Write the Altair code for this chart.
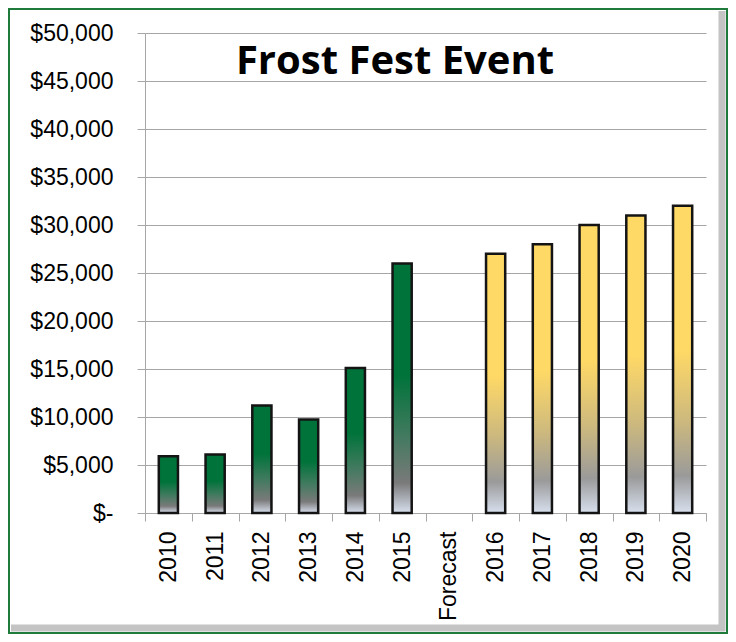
import altair as alt
import pandas as pd

categories = ["2010", "2011", "2012", "2013", "2014", "2015", "Forecast",
              "2016", "2017", "2018", "2019", "2020"]
revenue = [5900, 6100, 11200, 9750, 15100, 26000, None,
           27000, 28000, 30000, 31000, 32000]
kind = ["Actual"] * 6 + ["Gap"] + ["Forecast"] * 5
y_ticks = list(range(0, 50001, 5000))
title_text = ["Frost Fest Event"]

df = pd.DataFrame({"category": categories, "revenue": revenue, "kind": kind})
frame_df = pd.DataFrame({"k": [0]})
title_df = pd.DataFrame({"t": title_text})

green_grad = alt.LinearGradient(
    gradient="linear", x1=0, x2=0, y1=0, y2=1,
    stops=[
        alt.GradientStop(offset=0, color="#00733a"),
        alt.GradientStop(offset=0.45, color="#00733a"),
        alt.GradientStop(offset=0.68, color="#3f7a5e"),
        alt.GradientStop(offset=0.88, color="#7a7a7a"),
        alt.GradientStop(offset=1, color="#d8e0ee"),
    ],
)
yellow_grad = alt.LinearGradient(
    gradient="linear", x1=0, x2=0, y1=0, y2=1,
    stops=[
        alt.GradientStop(offset=0, color="#ffd966"),
        alt.GradientStop(offset=0.47, color="#ffd966"),
        alt.GradientStop(offset=0.70, color="#cdb97e"),
        alt.GradientStop(offset=0.88, color="#9a9a9a"),
        alt.GradientStop(offset=1, color="#d8e0ee"),
    ],
)

GRID = "#a6a6a6"
FONT = "Liberation Sans"

x_enc = alt.X(
    "category:N", sort=categories,
    scale=alt.Scale(domain=categories, paddingInner=0, paddingOuter=0),
    axis=alt.Axis(title=None, labelAngle=270, labelFont=FONT, labelFontSize=23,
                  labelColor="black", labelPadding=10, tickBand="extent",
                  tickSize=8, tickColor=GRID, domainColor=GRID, grid=False),
)
y_enc = alt.Y(
    "revenue:Q",
    scale=alt.Scale(domain=[0, 50000], nice=False),
    axis=alt.Axis(title=None, values=y_ticks,
                  labelExpr="datum.value == 0 ? '$-' : '$' + format(datum.value, ',')",
                  labelFont=FONT, labelFontSize=23, labelColor="black",
                  labelPadding=24, tickSize=8, tickColor=GRID, domainColor=GRID,
                  gridColor=GRID, gridWidth=1),
)

base = alt.Chart(df)
actual = base.transform_filter("datum.kind == 'Actual'").mark_bar(
    width=alt.RelativeBandSize(0.41), fill=green_grad, stroke="#141414", strokeWidth=2.5
).encode(x=x_enc, y=y_enc)
forecast = base.transform_filter("datum.kind == 'Forecast'").mark_bar(
    width=alt.RelativeBandSize(0.41), fill=yellow_grad, stroke="#141414", strokeWidth=2.5
).encode(x=x_enc, y=y_enc)

frame = alt.Chart(frame_df).mark_rect(fill="transparent", stroke="#1e7b3c", strokeWidth=2).encode(
    x=alt.value(-136), x2=alt.value(582), y=alt.value(-24), y2=alt.value(600)
)
bevel_right = alt.Chart(frame_df).mark_rule(color="#c4c4c4", strokeWidth=7).encode(
    x=alt.value(577), y=alt.value(-22), y2=alt.value(598)
)
bevel_bottom = alt.Chart(frame_df).mark_rule(color="#c4c4c4", strokeWidth=7).encode(
    x=alt.value(-134), x2=alt.value(580), y=alt.value(595)
)

title = alt.Chart(title_df).mark_text(
    font="Open Sans", fontSize=40, fontWeight="bold", color="black",
    align="center", baseline="alphabetic"
).encode(text="t:N", x=alt.value(250), y=alt.value(41))

chart = alt.layer(bevel_right, bevel_bottom, frame, actual, forecast, title).properties(
    width=561, height=480,
    autosize=alt.AutoSizeParams(type="none"),
    padding={"left": 137, "top": 25, "right": 22, "bottom": 121},
    background="white",
).configure_view(strokeWidth=0)

chart.save("out.html", embed_options={"renderer": "svg", "actions": False})
